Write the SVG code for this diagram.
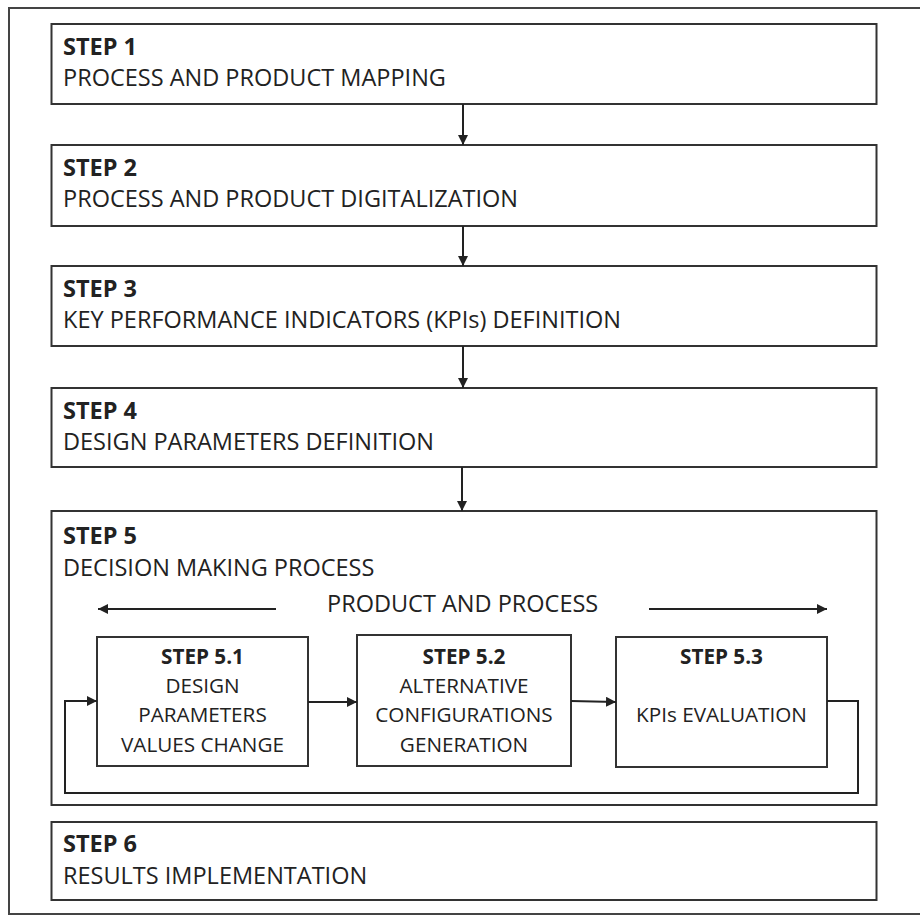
<svg xmlns="http://www.w3.org/2000/svg" width="920" height="918" viewBox="0 0 920 918">
<defs>
<style>
.box{fill:#fff;stroke:#333;stroke-width:2}
.ln{fill:none;stroke:#222;stroke-width:2}
.t{font-family:"Open Sans","Liberation Sans",sans-serif;font-size:23.5px;fill:#222}
.b{font-weight:bold}
.s{font-family:"Open Sans","Liberation Sans",sans-serif;font-size:20.7px;fill:#222;text-anchor:middle}
</style>
<marker id="ah" viewBox="0 0 10 10" refX="10" refY="5" markerWidth="5" markerHeight="5" orient="auto" markerUnits="strokeWidth">
<path d="M0,0 L10,5 L0,10 z" fill="#222"/>
</marker>
</defs>
<rect x="0" y="0" width="920" height="918" fill="#fff"/>
<rect x="9" y="8" width="918" height="906" fill="none" stroke="#444" stroke-width="2"/>

<g id="step1">
<rect class="box" x="51.5" y="24" width="825" height="80"/>
<text class="t b" x="63" y="55">STEP 1</text>
<text class="t" x="63" y="86">PROCESS AND PRODUCT MAPPING</text>
</g>
<g id="step2">
<rect class="box" x="51.5" y="145" width="825" height="81"/>
<text class="t b" x="63" y="176">STEP 2</text>
<text class="t" x="63" y="207">PROCESS AND PRODUCT DIGITALIZATION</text>
</g>
<g id="step3">
<rect class="box" x="51.5" y="266" width="825" height="80"/>
<text class="t b" x="63" y="297">STEP 3</text>
<text class="t" x="63" y="328">KEY PERFORMANCE INDICATORS (KPIs) DEFINITION</text>
</g>
<g id="step4">
<rect class="box" x="51.5" y="388" width="825" height="79"/>
<text class="t b" x="63" y="419">STEP 4</text>
<text class="t" x="63" y="450">DESIGN PARAMETERS DEFINITION</text>
</g>
<g id="step5">
<rect class="box" x="51.5" y="511" width="825" height="294"/>
<text class="t b" x="63" y="544">STEP 5</text>
<text class="t" x="63" y="576">DECISION MAKING PROCESS</text>
<text class="t" x="327" y="612">PRODUCT AND PROCESS</text>
</g>
<g id="step51">
<rect class="box" x="97" y="637" width="211" height="129"/>
<text class="s b" x="202.5" y="664">STEP 5.1</text>
<text class="s" x="202.5" y="693">DESIGN</text>
<text class="s" x="202.5" y="722">PARAMETERS</text>
<text class="s" x="202.5" y="752">VALUES CHANGE</text>
</g>
<g id="step52">
<rect class="box" x="357" y="635" width="214" height="131"/>
<text class="s b" x="464" y="664">STEP 5.2</text>
<text class="s" x="464" y="693">ALTERNATIVE</text>
<text class="s" x="464" y="722">CONFIGURATIONS</text>
<text class="s" x="464" y="752">GENERATION</text>
</g>
<g id="step53">
<rect class="box" x="616" y="637" width="211" height="130"/>
<text class="s b" x="721.5" y="664">STEP 5.3</text>
<text class="s" x="721.5" y="722">KPIs EVALUATION</text>
</g>
<g id="step6">
<rect class="box" x="51.5" y="822" width="825" height="78"/>
<text class="t b" x="63" y="852">STEP 6</text>
<text class="t" x="63" y="884">RESULTS IMPLEMENTATION</text>
</g>

<g id="connectors">
<line class="ln" x1="463" y1="104" x2="463" y2="145" marker-end="url(#ah)"/>
<line class="ln" x1="463" y1="226" x2="463" y2="266" marker-end="url(#ah)"/>
<line class="ln" x1="463" y1="346" x2="463" y2="388" marker-end="url(#ah)"/>
<line class="ln" x1="462" y1="467" x2="462" y2="511" marker-end="url(#ah)"/>
<line class="ln" x1="276" y1="609" x2="98" y2="609" marker-end="url(#ah)"/>
<line class="ln" x1="649" y1="609" x2="827" y2="609" marker-end="url(#ah)"/>
<line class="ln" x1="308" y1="702" x2="357" y2="702" marker-end="url(#ah)"/>
<line class="ln" x1="571" y1="701" x2="616" y2="702" marker-end="url(#ah)"/>
<polyline class="ln" points="827,701 858,701 858,793 65,793 65,701 97,701" marker-end="url(#ah)"/>
</g>
</svg>
